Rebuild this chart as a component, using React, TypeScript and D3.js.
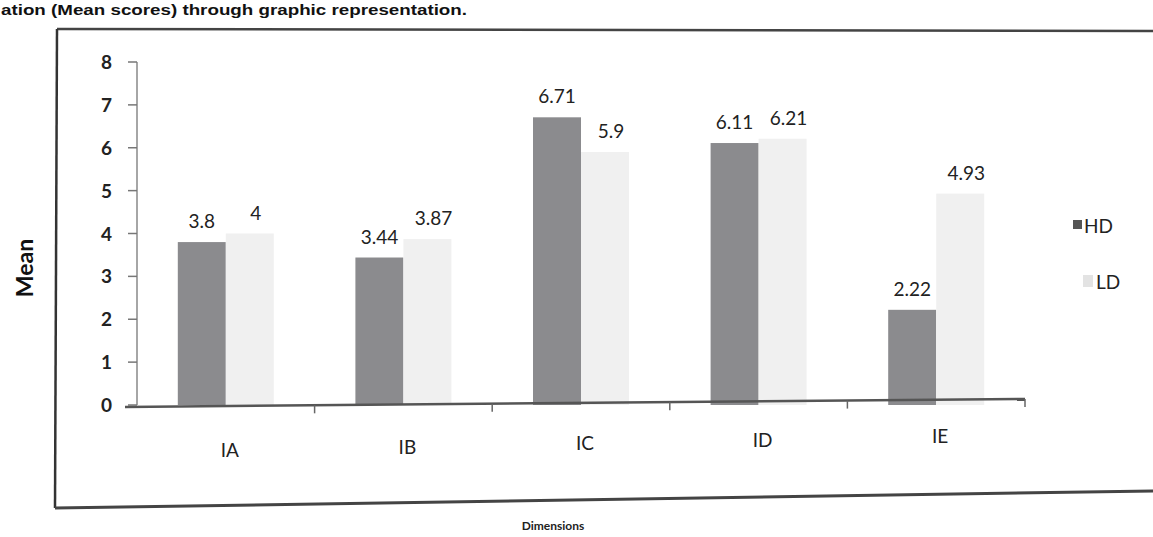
import React from "react";
import * as d3 from "d3";

const categories = ["IA", "IB", "IC", "ID", "IE"];
const hdValues = [3.8, 3.44, 6.71, 6.11, 2.22];
const ldValues = [4, 3.87, 5.9, 6.21, 4.93];
const seriesNames = ["HD", "LD"];
const yTicks = [0, 1, 2, 3, 4, 5, 6, 7, 8];

const W = 1153;
const H = 537;
const left = 137;
const right = 1025;
const top = 62;
const bottom = 405;

export default function App() {
  const x = d3.scaleBand<string>().domain(categories).range([left, right]);
  const y = d3.scaleLinear().domain([0, 8]).range([bottom, top]);
  const barW = 48;
  const font = "Lato, 'Open Sans', sans-serif";
  const series = [
    { name: seriesNames[0], values: hdValues, fill: "#8b8b8e", dx: -barW, lblDx: 0 },
    { name: seriesNames[1], values: ldValues, fill: "#f0f0f0", dx: 0, lblDx: 6 },
  ];
  return (
    <svg width={W} height={H} style={{ position: "absolute", left: 0, top: 0, background: "#fff" }}>
      <text x={1} y={15} fontFamily="Arial, 'Liberation Sans', sans-serif" fontWeight="bold" fontSize={15}
        fill="#111" textLength={466} lengthAdjust="spacingAndGlyphs">
        ation (Mean scores) through graphic representation.
      </text>
      {/* outer frame */}
      <line x1={57} y1={29} x2={1153} y2={31} stroke="#444" strokeWidth={2.5} />
      <line x1={57} y1={29} x2={55} y2={508} stroke="#333" strokeWidth={2.5} />
      <line x1={55} y1={508} x2={1153} y2={491} stroke="#444" strokeWidth={3} />
      {/* bars */}
      {series.map((s) =>
        s.values.map((v, i) => {
          const cx = (x(categories[i]) as number) + x.bandwidth() / 2;
          return (
            <rect key={s.name + i} x={cx + s.dx} y={y(v)} width={barW} height={bottom - y(v)} fill={s.fill} />
          );
        })
      )}
      {/* data labels */}
      {series.map((s) =>
        s.values.map((v, i) => {
          const cx = (x(categories[i]) as number) + x.bandwidth() / 2;
          return (
            <text key={"l" + s.name + i} x={cx + s.dx + barW / 2 + s.lblDx} y={y(v) - 14} textAnchor="middle"
              fontFamily={font} fontSize={19} fill="#222">
              {String(v)}
            </text>
          );
        })
      )}
      {/* y axis */}
      <line x1={left} y1={top} x2={left} y2={bottom} stroke="#888" strokeWidth={1.5} />
      {yTicks.map((t) => (
        <g key={t}>
          <line x1={left - 9} x2={left} y1={y(t)} y2={y(t)} stroke="#777" strokeWidth={1.5} />
          <text x={112} y={y(t) + 7} textAnchor="end" fontFamily={font} fontWeight="bold" fontSize={19} fill="#222">
            {t}
          </text>
        </g>
      ))}
      {/* x axis */}
      <line x1={left - 12} x2={right} y1={bottom + 2} y2={bottom - 6} stroke="#555" strokeWidth={2.5} />
      {categories.map((c) => {
        const bx = (x(c) as number) + x.bandwidth();
        const by = bottom + 2 - ((bx - left + 12) / (right - left + 12)) * 8;
        return <line key={"t" + c} x1={bx} x2={bx} y1={by} y2={by + 8} stroke="#666" strokeWidth={1.5} />;
      })}
      {categories.map((c, i) => {
        const cx = (x(c) as number) + x.bandwidth() / 2 + 4;
        return (
          <text key={"c" + c} x={cx} y={457 - i * 3.5} textAnchor="middle" fontFamily={font} fontSize={19} fill="#222">
            {c}
          </text>
        );
      })}
      {/* axis titles */}
      <text transform="translate(33,268) rotate(-90)" textAnchor="middle" fontFamily={font} fontWeight="bold" fontSize={23} fill="#111">
        Mean
      </text>
      <text x={553} y={530} textAnchor="middle" fontFamily={font} fontWeight="bold" fontSize={12} fill="#222">
        Dimensions
      </text>
      {/* legend */}
      <rect x={1073} y={220} width={9} height={9} fill="#555" />
      <text x={1084} y={233} fontFamily={font} fontSize={19} fill="#222">{seriesNames[0]}</text>
      <rect x={1083} y={275} width={10} height={12} fill="#e3e3e3" />
      <text x={1096} y={289} fontFamily={font} fontSize={19} fill="#222">{seriesNames[1]}</text>
    </svg>
  );
}
